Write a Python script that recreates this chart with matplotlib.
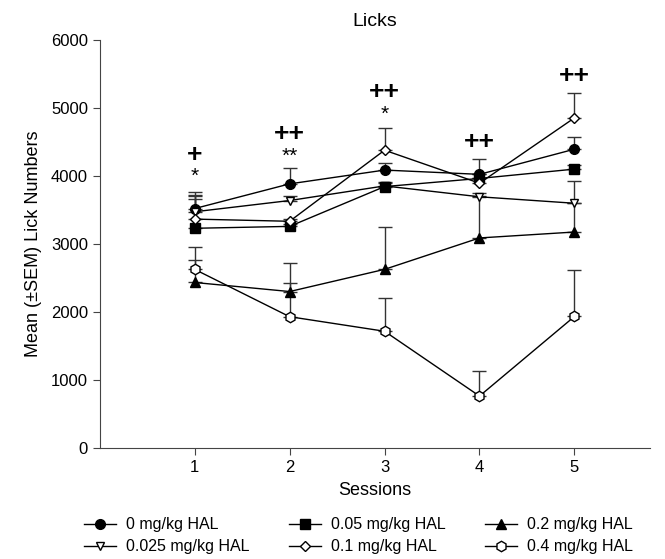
import matplotlib.pyplot as plt
from matplotlib.lines import Line2D
import numpy as np

plt.rcParams['font.family'] = ['Liberation Sans', 'DejaVu Sans']

# Sessions 1-5
sessions = [1, 2, 3, 4, 5]

# Gjennomsnitt per dose (lest av figuren)
hal_0 = [3517, 3880, 4083, 4020, 4390]
hal_0025 = [3470, 3635, 3850, 3690, 3595]
hal_005 = [3227, 3255, 3840, 3960, 4097]
hal_01 = [3362, 3330, 4375, 3890, 4850]
hal_02 = [2430, 2297, 2623, 3085, 3172]
hal_04 = [2623, 1927, 1713, 760, 1930]

# SEM (kun oppover)
sem_0 = [240, 237, 97, 230, 180]
sem_0025 = [230, 60, 60, 60, 325]
sem_005 = [435, 40, 60, 60, 60]
sem_01 = [348, 40, 325, 80, 365]
sem_02 = [324, 423, 622, 620, 420]
sem_04 = [324, 493, 482, 370, 680]

labels = ["0 mg/kg HAL", "0.025 mg/kg HAL", "0.05 mg/kg HAL",
          "0.1 mg/kg HAL", "0.2 mg/kg HAL", "0.4 mg/kg HAL"]

# stjerner og pluss over punktene
sig_x = [1, 1, 2, 2, 3, 3, 4, 5]
sig_y = [4300, 3990, 4620, 4290, 5230, 4900, 4500, 5460]
sig_txt = ["+", "*", "++", "**", "++", "*", "++", "++"]

means = [hal_0, hal_0025, hal_005, hal_01, hal_02, hal_04]
sems = [sem_0, sem_0025, sem_005, sem_01, sem_02, sem_04]
markers = ["o", "v", "s", "D", "^", "h"]
faces = ["black", "white", "black", "white", "black", "white"]
msizes = [7, 6, 6.5, 5.5, 7, 7.5]

fig = plt.figure(figsize=(6.65, 5.59), dpi=100)
ax = fig.add_axes([0.150, 0.199, 0.828, 0.730])

handles = []
for m, s, mk, fc, ms, lab in zip(means, sems, markers, faces, msizes, labels):
    ax.errorbar(sessions, m, yerr=[np.zeros(len(s)), s], color="black",
                ecolor="#333333", elinewidth=1, capsize=5, capthick=1.2,
                linewidth=1, marker=mk, markersize=ms, markerfacecolor=fc,
                markeredgecolor="black", markeredgewidth=1)
    handles.append(Line2D([], [], color="black", linewidth=1, marker=mk,
                          markersize=ms, markerfacecolor=fc,
                          markeredgecolor="black", label=lab))

for x, y, t in zip(sig_x, sig_y, sig_txt):
    if "+" in t:
        ax.text(x, y, t, ha="center", va="center", fontsize=19,
                fontweight="bold")
    else:
        ax.text(x, y, t, ha="center", va="center", fontsize=15)

ax.set_xlim(0, 5.8)
ax.set_ylim(0, 6000)
ax.set_xticks(sessions)
ax.set_yticks(np.arange(0, 6001, 1000))
ax.tick_params(labelsize=12, length=5, color="#444444")
ax.spines["top"].set_visible(False)
ax.spines["right"].set_visible(False)
ax.spines["left"].set_color("#444444")
ax.spines["bottom"].set_color("#444444")
ax.set_title("Licks", fontsize=14, pad=10)
ax.set_xlabel("Sessions", fontsize=13, labelpad=5)
ax.set_ylabel("Mean (\u00b1SEM) Lick Numbers", fontsize=13, labelpad=6)

ax.legend(handles=handles, loc="upper center", bbox_to_anchor=(0.47, -0.135),
          ncol=3, frameon=False, fontsize=11.5, handlelength=2.0,
          columnspacing=2.5, labelspacing=0.45, handletextpad=0.6)

plt.savefig("out.png", dpi=100)
